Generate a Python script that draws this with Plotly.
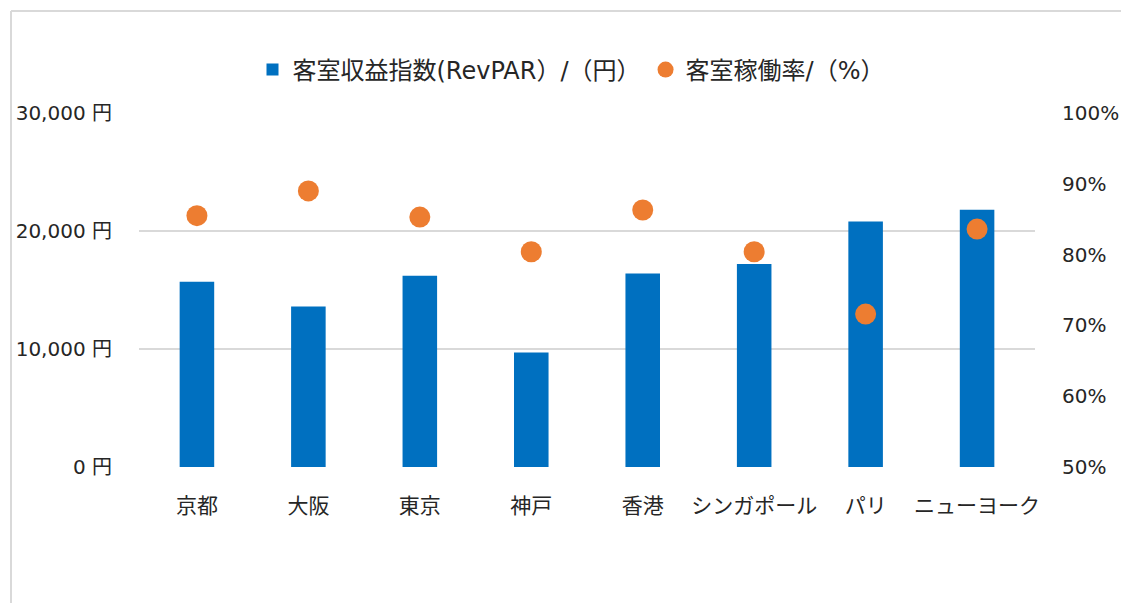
import plotly.graph_objects as go

cities = ["京都", "大阪", "東京", "神戸", "香港", "シンガポール", "パリ", "ニューヨーク"]
revpar = [15700, 13600, 16200, 9700, 16400, 17200, 20800, 21800]
occupancy = [0.855, 0.890, 0.853, 0.804, 0.863, 0.804, 0.716, 0.836]
left_ticks = [0, 10000, 20000, 30000]
left_labels = ["0 円", "10,000 円", "20,000 円", "30,000 円"]
right_ticks = [0.5, 0.6, 0.7, 0.8, 0.9, 1.0]

W, H = 1121, 603
ml, mt = 139, 113
mr = W - 1035
mb = H - 467
pw, ph = W - ml - mr, H - mt - mb

FONT = "DejaVu Sans, Noto Sans CJK JP, sans-serif"
TXT = "#262626"

fig = go.Figure()
fig.add_trace(go.Bar(
    x=cities, y=revpar, name="客室収益指数(RevPAR）/（円）",
    marker=dict(color="#0070C0", line=dict(width=0)), yaxis="y",
))
fig.add_trace(go.Scatter(
    x=cities, y=occupancy, name="客室稼働率/（%）", mode="markers",
    marker=dict(color="#ED7D31", size=21), yaxis="y2",
))

def px_x(p):
    return (p - ml) / pw

def px_y(p):
    return (H - mb - p) / ph

border = "#d9d9d9"
shapes = [
    dict(type="line", xref="paper", yref="paper", x0=px_x(11), x1=px_x(11),
         y0=px_y(11), y1=px_y(H + 20), line=dict(color=border, width=2)),
    dict(type="line", xref="paper", yref="paper", x0=px_x(11), x1=px_x(W + 20),
         y0=px_y(11), y1=px_y(11), line=dict(color=border, width=2)),
]

fig.update_layout(
    width=W, height=H,
    margin=dict(l=ml, r=mr, t=mt, b=mb, pad=0, autoexpand=False),
    paper_bgcolor="white", plot_bgcolor="white",
    font=dict(family=FONT, size=20, color=TXT),
    bargap=0.69,
    showlegend=True,
    legend=dict(orientation="h", x=px_x(571), xanchor="center", y=px_y(70), yanchor="middle",
                font=dict(size=24, color=TXT), itemwidth=30, tracegroupgap=0),
    xaxis=dict(showgrid=False, showline=False, ticks="outside", ticklen=20,
               tickcolor="rgba(0,0,0,0)", tickfont=dict(size=21), automargin=False),
    yaxis=dict(range=[0, 30000], tickvals=left_ticks, ticktext=left_labels,
               showgrid=True, gridcolor="#d9d9d9", gridwidth=2, zeroline=False,
               showline=False, ticks="outside", ticklen=22, tickcolor="rgba(0,0,0,0)",
               tickfont=dict(size=20), automargin=False),
    yaxis2=dict(range=[0.5, 1.0], tickvals=right_ticks, tickformat=".0%", overlaying="y",
                side="right", showgrid=False, zeroline=False, showline=False,
                ticks="outside", ticklen=22, tickcolor="rgba(0,0,0,0)",
                tickfont=dict(size=20), automargin=False),
    shapes=shapes,
)

fig.write_html("out.html", config={"displayModeBar": False},
               post_script="document.body.style.margin='0';document.body.style.overflow='hidden';")
